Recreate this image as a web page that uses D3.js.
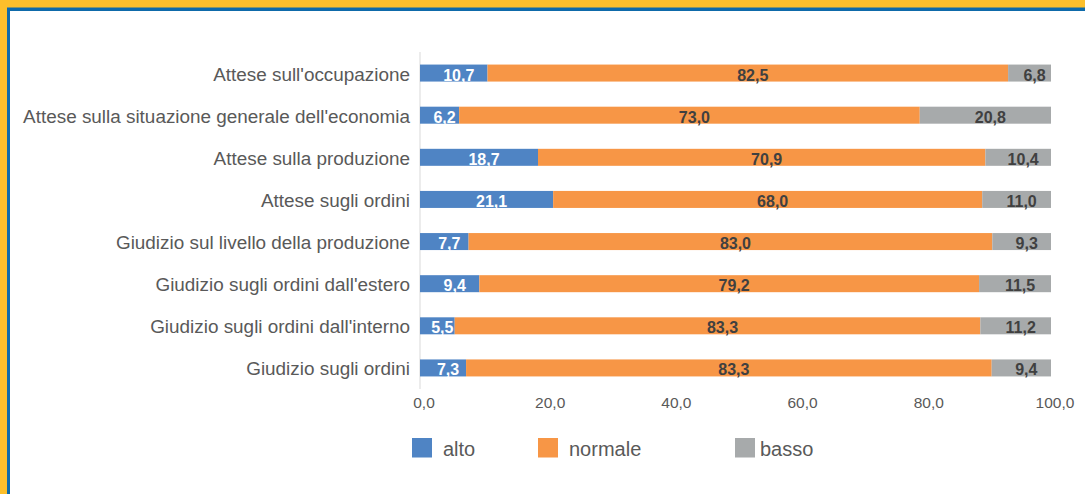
<!DOCTYPE html>
<html>
<head>
<meta charset="utf-8">
<script src="https://cdn.jsdelivr.net/npm/d3@7"></script>
<style>
  html, body { margin: 0; padding: 0; background: #fff; }
  svg { display: block; font-family: "Liberation Sans", Arial, sans-serif; }
</style>
</head>
<body>
<svg id="chart" width="1085" height="494"></svg>
<script>
// categories, top to bottom
var categories = [
    "Attese sull'occupazione",
    "Attese sulla situazione generale dell'economia",
    "Attese sulla produzione",
    "Attese sugli ordini",
    "Giudizio sul livello della produzione",
    "Giudizio sugli ordini dall'estero",
    "Giudizio sugli ordini dall'interno",
    "Giudizio sugli ordini"
];
var alto    = [10.7, 6.2, 18.7, 21.1, 7.7, 9.4, 5.5, 7.3];
var normale = [82.5, 73.0, 70.9, 68.0, 83.0, 79.2, 83.3, 83.3];
var basso   = [6.8, 20.8, 10.4, 11.0, 9.3, 11.5, 11.2, 9.4];
var seriesNames = ["alto", "normale", "basso"];
var xTicks = [0, 20, 40, 60, 80, 100];

var colors = { alto: "#4f84c4", normale: "#f79646", basso: "#a7aaab" };
var labelColors = { alto: "#ffffff", normale: "#404040", basso: "#404040" };

var width = 1085, height = 494;
var svg = d3.select("#chart");

// frame: yellow band + blue line
svg.append("rect").attr("x", 0).attr("y", 0).attr("width", width).attr("height", height).attr("fill", "#fcbf2b");
svg.append("rect").attr("x", 7).attr("y", 7.5).attr("width", width).attr("height", height).attr("fill", "#0e6aaa");
svg.append("rect").attr("x", 10).attr("y", 11).attr("width", width).attr("height", height).attr("fill", "#ffffff");

var x = d3.scaleLinear().domain([0, 100]).range([420, 1051]);
var y = d3.scaleBand().domain(categories).range([52, 389]);
var barH = 17;

var rows = categories.map(function(c, i) {
    return { cat: c, alto: alto[i], normale: normale[i], basso: basso[i] };
});
var stacked = d3.stack().keys(seriesNames)(rows);

var fmt = function(v) { return d3.format(".1f")(v).replace(".", ","); };

// axis line
svg.append("line")
    .attr("x1", x(0)).attr("x2", x(0))
    .attr("y1", 52).attr("y2", 389)
    .attr("stroke", "#d9d9d9").attr("stroke-width", 1);

var layers = svg.selectAll("g.layer")
    .data(stacked)
    .enter().append("g")
    .attr("class", "layer");

layers.selectAll("rect")
    .data(function(d) { return d.map(function(p) { return { key: d.key, p: p }; }); })
    .enter().append("rect")
    .attr("x", function(d) { return x(d.p[0]); })
    .attr("width", function(d) { return Math.min(x(d.p[1]), x(100)) - x(d.p[0]); })
    .attr("y", function(d) { return y(d.p.data.cat) + y.bandwidth() / 2 - barH / 2; })
    .attr("height", barH)
    .attr("fill", function(d) { return colors[d.key]; });

layers.selectAll("text")
    .data(function(d) { return d.map(function(p) { return { key: d.key, p: p }; }); })
    .enter().append("text")
    .attr("x", function(d) { return (x(d.p[0]) + Math.min(x(d.p[1]), x(100))) / 2 + 5; })
    .attr("y", function(d) { return y(d.p.data.cat) + y.bandwidth() / 2 + 7.5; })
    .attr("text-anchor", "middle")
    .attr("font-size", "16px")
    .attr("font-weight", "bold")
    .attr("fill", function(d) { return labelColors[d.key]; })
    .text(function(d) { return fmt(d.p.data[d.key]); });

// category labels
svg.selectAll("text.cat")
    .data(categories)
    .enter().append("text")
    .attr("class", "cat")
    .attr("x", 410)
    .attr("y", function(d) { return y(d) + y.bandwidth() / 2 + 7.5; })
    .attr("text-anchor", "end")
    .attr("font-size", "18.9px")
    .attr("fill", "#595959")
    .text(function(d) { return d; });

// x tick labels
svg.selectAll("text.tick")
    .data(xTicks)
    .enter().append("text")
    .attr("class", "tick")
    .attr("x", function(d) { return x(d) + 4; })
    .attr("y", 408)
    .attr("text-anchor", "middle")
    .attr("font-size", "15.5px")
    .attr("fill", "#595959")
    .text(fmt);

// legend
var legendX = [412, 538, 735];
var legend = svg.selectAll("g.legend")
    .data(seriesNames)
    .enter().append("g")
    .attr("class", "legend")
    .attr("transform", function(d, i) { return "translate(" + legendX[i] + ",438)"; });
legend.append("rect")
    .attr("width", 20).attr("height", 19.5)
    .attr("fill", function(d) { return colors[d]; });
legend.append("text")
    .attr("x", function(d, i) { return i === 2 ? 25 : 31; })
    .attr("y", 18)
    .attr("font-size", "20px")
    .attr("fill", "#595959")
    .text(function(d) { return d; });
</script>
</body>
</html>
